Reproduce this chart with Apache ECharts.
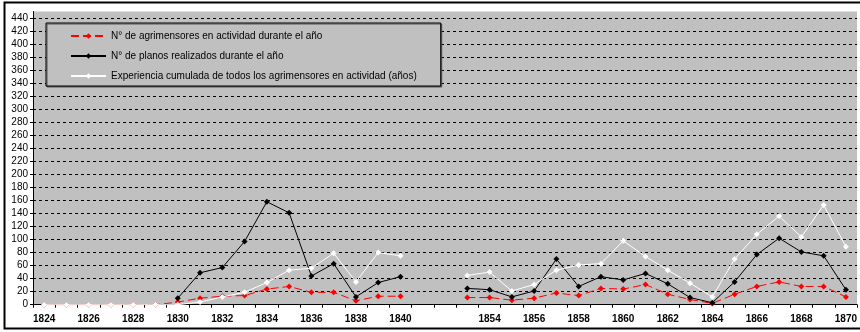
<!DOCTYPE html>
<html>
<head>
<meta charset="utf-8">
<script src="https://cdn.jsdelivr.net/npm/echarts@6.0.0/dist/echarts.min.js"></script>
<style>
  html, body { margin: 0; padding: 0; background: #fff; }
  #chart { width: 860px; height: 332px; }
</style>
</head>
<body>
<div id="chart"></div>
<script>
  // años (dos categorías vacías entre 1840 y 1853)
  const years = ['1824','1825','1826','1827','1828','1829','1830','1831','1832','1833','1834','1835','1836','1837','1838','1839','1840',
    '', '',
    '1853','1854','1855','1856','1857','1858','1859','1860','1861','1862','1863','1864','1865','1866','1867','1868','1869','1870'];

  const agrimensores = [0,0,0,0,0,0, 4,10,13,14,24,28,19,19,6,13,13, null,null,
    11,11,7,10,18,14,25,24,31,16,8,2,16,28,35,28,28,12];
  const planos = [null,null,null,null,null,null, 10,49,57,97,158,141,44,63,12,34,43, null,null,
    25,23,12,21,70,28,43,38,48,32,11,3,35,77,102,81,75,23];
  const experiencia = [0,0,0,0,0,0, 0,4,12,19,34,53,56,79,35,80,75, null,null,
    45,50,21,31,53,61,63,98,74,53,33,12,70,108,136,104,153,89];

  const names = [
    'N° de agrimensores en actividad durante el año',
    'N° de planos realizados durante el año',
    'Experiencia cumulada de todos los agrimensores en actividad (años)'
  ];

  const font = 'Arial, "Liberation Sans", sans-serif';
  let myChart = echarts.init(document.getElementById('chart'));
  let option = {
    animation: false,
    backgroundColor: '#fff',
    textStyle: { fontFamily: font },
    graphic: [{
      type: 'rect',
      shape: { x: 4.5, y: 2.5, width: 900, height: 326 },
      style: { fill: 'none', stroke: '#000', lineWidth: 2 },
      z: 100
    }],
    grid: {
      left: 33, top: 11.5, width: 828, height: 293.2,
      show: true, backgroundColor: '#c0c0c0', borderWidth: 0
    },
    legend: {
      orient: 'vertical',
      left: 46, top: 23,
      padding: [7, 24, 4, 24],
      itemWidth: 35, itemHeight: 7, itemGap: 8,
      backgroundColor: '#c0c0c0',
      borderColor: '#000', borderWidth: 1,
      shadowColor: '#555', shadowOffsetX: 1, shadowOffsetY: 1, shadowBlur: 0,
      textStyle: { fontSize: 10, color: '#000', fontFamily: font, lineHeight: 12 },
      data: names
    },
    xAxis: {
      type: 'category',
      data: years,
      boundaryGap: true,
      axisLine: { lineStyle: { color: '#000', width: 1 } },
      axisTick: { show: true, interval: 0, length: 3, lineStyle: { color: '#000' } },
      axisLabel: { interval: 1, color: '#000', fontSize: 10, fontWeight: 'bold', margin: 10, fontFamily: font },
      splitLine: { show: false }
    },
    yAxis: {
      type: 'value',
      min: 0, max: 450, interval: 20,
      axisLine: { show: true, lineStyle: { color: '#000', width: 1 } },
      axisTick: { show: true, length: 3, lineStyle: { color: '#000' } },
      axisLabel: { color: '#000', fontSize: 10, margin: 5, showMaxLabel: false, fontFamily: font },
      splitLine: { show: true, showMaxLine: false, lineStyle: { color: '#000', type: [3, 3], width: 1 } }
    },
    series: [
      {
        name: names[0], type: 'line', data: agrimensores,
        symbol: 'diamond', symbolSize: 6, showAllSymbol: true,
        lineStyle: { color: '#ff0000', width: 1, type: [8, 4] },
        itemStyle: { color: '#ff0000' },
        z: 2
      },
      {
        name: names[1], type: 'line', data: planos,
        symbol: 'diamond', symbolSize: 6, showAllSymbol: true,
        lineStyle: { color: '#000', width: 1 },
        itemStyle: { color: '#000' },
        z: 3
      },
      {
        name: names[2], type: 'line', data: experiencia,
        symbol: 'diamond', symbolSize: 6, showAllSymbol: true,
        lineStyle: { color: '#fff', width: 1 },
        itemStyle: { color: '#fff' },
        z: 4
      }
    ]
  };
  myChart.setOption(option);
</script>
</body>
</html>
